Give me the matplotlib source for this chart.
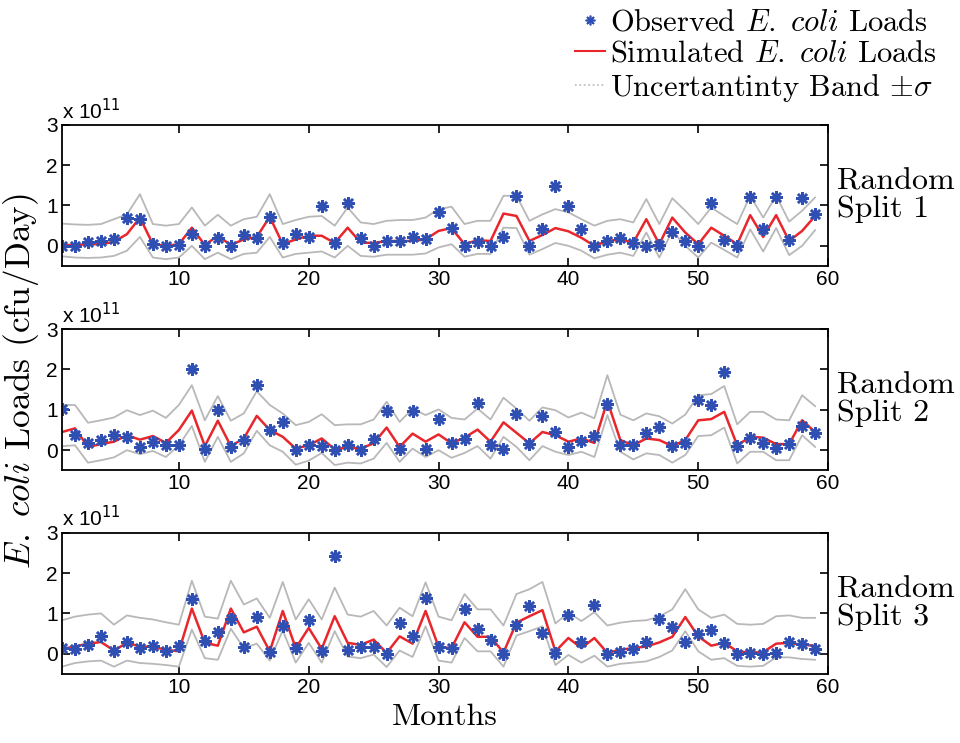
import numpy as np
import matplotlib
matplotlib.use('Agg')
import matplotlib.pyplot as plt
from matplotlib.lines import Line2D

plt.rcParams['mathtext.fontset'] = 'cm'
plt.rcParams['axes.unicode_minus'] = False

# loads in units of 1e11 cfu/day, months 1..59
months = np.arange(1, 60)

obs_1 = [0.0, 0.0, 0.1, 0.12, 0.16, 0.7, 0.66, 0.04, 0.0, 0.02,
         0.3, 0.0, 0.19, 0.0, 0.27, 0.2, 0.72, 0.06, 0.29, 0.23,
         0.99, 0.07, 1.05, 0.2, 0.0, 0.12, 0.12, 0.22, 0.16, 0.85,
         0.44, 0.0, 0.1, 0.0, 0.22, 1.24, 0.0, 0.41, 1.49, 0.98,
         0.41, 0.0, 0.12, 0.19, 0.07, 0.0, 0.01, 0.35, 0.12, 0.0,
         1.05, 0.14, 0.0, 1.22, 0.41, 1.2, 0.14, 1.18, 0.79]
sim_1 = [0.02, 0.02, 0.04, 0.04, 0.1, 0.29, 0.7, 0.04, 0.0, 0.04,
         0.45, 0.02, 0.25, 0.02, 0.16, 0.22, 0.72, 0.04, 0.16, 0.25,
         0.25, 0.07, 0.45, 0.08, 0.07, 0.12, 0.12, 0.12, 0.16, 0.37,
         0.44, 0.04, 0.14, 0.12, 0.8, 0.74, 0.12, 0.27, 0.44, 0.36,
         0.2, 0.0, 0.12, 0.16, 0.08, 0.66, 0.04, 0.7, 0.33, 0.04,
         0.45, 0.25, 0.04, 0.76, 0.22, 0.76, 0.12, 0.37, 0.74]
upper_1 = [0.55, 0.53, 0.52, 0.54, 0.66, 0.78, 1.28, 0.54, 0.5, 0.54,
           0.95, 0.5, 0.77, 0.5, 0.66, 0.72, 1.28, 0.54, 0.64, 0.72,
           0.74, 0.5, 0.95, 0.58, 0.54, 0.62, 0.64, 0.64, 0.7, 0.91,
           0.97, 0.54, 0.62, 0.62, 1.24, 1.24, 0.62, 0.78, 0.91, 0.83,
           0.66, 0.5, 0.62, 0.66, 0.58, 1.16, 0.54, 1.18, 0.87, 0.54,
           0.95, 0.74, 0.54, 1.24, 0.7, 1.24, 0.6, 0.87, 1.2]
lower_1 = [-0.26, -0.29, -0.3, -0.29, -0.25, -0.12, 0.22, -0.29, -0.33, -0.29,
           0.0, -0.33, -0.17, -0.33, -0.2, -0.17, 0.22, -0.29, -0.2, -0.17,
           -0.14, -0.29, 0.0, -0.25, -0.27, -0.22, -0.22, -0.22, -0.19, -0.04,
           0.04, -0.27, -0.2, -0.2, 0.45, 0.44, -0.22, -0.08, 0.07, 0.0,
           -0.12, -0.31, -0.22, -0.17, -0.25, 0.33, -0.29, 0.37, 0.0, -0.29,
           0.08, -0.1, -0.29, 0.41, -0.14, 0.44, -0.23, 0.0, 0.39]

obs_2 = [1.03, 0.37, 0.18, 0.25, 0.37, 0.33, 0.08, 0.2, 0.14, 0.13,
         2.0, 0.04, 0.99, 0.08, 0.26, 1.61, 0.51, 0.7, 0.0, 0.14,
         0.1, 0.0, 0.12, 0.0, 0.27, 0.98, 0.02, 0.98, 0.02, 0.77,
         0.18, 0.27, 1.16, 0.12, 0.02, 0.89, 0.15, 0.84, 0.45, 0.07,
         0.23, 0.35, 1.14, 0.12, 0.12, 0.43, 0.58, 0.11, 0.18, 1.24,
         1.13, 1.94, 0.1, 0.29, 0.17, 0.06, 0.15, 0.6, 0.43]
sim_2 = [0.45, 0.54, 0.08, 0.15, 0.21, 0.37, 0.26, 0.35, 0.18, 0.5,
         0.98, 0.1, 0.73, 0.1, 0.29, 0.85, 0.5, 0.33, 0.04, 0.12,
         0.29, 0.02, 0.07, 0.04, 0.17, 0.56, 0.08, 0.41, 0.21, 0.39,
         0.17, 0.31, 0.51, 0.21, 0.69, 0.43, 0.17, 0.45, 0.37, 0.21,
         0.29, 0.18, 1.22, 0.25, 0.12, 0.29, 0.25, 0.1, 0.25, 0.74,
         0.77, 0.95, 0.12, 0.33, 0.31, 0.15, 0.15, 0.74, 0.45]
upper_2 = [1.12, 1.12, 0.68, 0.74, 0.81, 0.99, 0.87, 0.98, 0.8, 1.12,
           1.61, 0.74, 1.34, 0.73, 0.91, 1.46, 1.12, 0.91, 0.62, 0.7,
           0.89, 0.62, 0.64, 0.64, 0.76, 1.2, 0.7, 1.03, 0.87, 1.01,
           0.8, 0.76, 1.03, 0.76, 1.3, 1.03, 0.73, 1.06, 0.99, 0.81,
           0.93, 0.79, 1.86, 0.88, 0.74, 0.91, 0.84, 0.66, 0.88, 1.36,
           1.39, 1.59, 0.64, 0.95, 0.95, 0.76, 0.74, 1.36, 1.09]
lower_2 = [0.1, 0.12, -0.31, -0.25, -0.18, 0.0, -0.1, -0.02, -0.17, 0.12,
           0.6, -0.29, 0.33, -0.29, -0.08, 0.48, 0.12, -0.04, -0.36, -0.26,
           -0.07, -0.37, -0.31, -0.33, -0.21, 0.18, -0.29, 0.04, -0.17, 0.0,
           -0.19, -0.07, 0.1, -0.21, 0.33, 0.08, -0.25, 0.1, -0.04, -0.12,
           -0.04, -0.17, 0.87, -0.04, -0.23, -0.08, -0.12, -0.31, -0.12, 0.35,
           0.37, 0.56, -0.33, -0.04, -0.04, -0.25, -0.25, 0.37, 0.08]

obs_3 = [0.14, 0.12, 0.22, 0.43, 0.06, 0.28, 0.14, 0.18, 0.08, 0.2,
         1.35, 0.31, 0.53, 0.85, 0.16, 0.92, 0.04, 0.68, 0.13, 0.83,
         0.06, 2.43, 0.1, 0.17, 0.17, 0.0, 0.77, 0.43, 1.38, 0.17,
         0.14, 1.12, 0.62, 0.35, 0.0, 0.72, 1.18, 0.52, 0.03, 0.95,
         0.28, 1.22, 0.0, 0.05, 0.12, 0.28, 0.87, 0.66, 0.28, 0.49,
         0.6, 0.27, 0.0, 0.02, 0.0, 0.02, 0.28, 0.25, 0.12]
sim_3 = [0.12, 0.18, 0.25, 0.29, 0.08, 0.27, 0.18, 0.17, 0.1, 0.06,
         1.12, 0.27, 0.2, 1.12, 0.53, 0.67, 0.06, 1.06, 0.14, 0.64,
         0.12, 0.93, 0.27, 0.22, 0.35, 0.02, 0.43, 0.25, 1.06, 0.17,
         0.14, 0.78, 0.42, 0.42, 0.03, 0.77, 0.93, 1.08, 0.06, 0.39,
         0.14, 0.39, 0.02, 0.1, 0.14, 0.18, 0.28, 0.42, 0.91, 0.43,
         0.2, 0.27, 0.06, 0.03, 0.04, 0.25, 0.27, 0.22, 0.2]
upper_3 = [0.83, 0.92, 0.97, 1.0, 0.72, 0.95, 0.89, 0.85, 0.78, 0.72,
           1.81, 0.92, 0.87, 1.81, 1.22, 1.37, 0.89, 1.78, 0.85, 1.35,
           0.85, 1.64, 0.97, 0.92, 1.06, 0.7, 1.14, 0.93, 1.77, 0.92,
           0.83, 1.48, 1.1, 1.1, 0.7, 1.48, 1.6, 1.78, 0.75, 1.02,
           0.81, 1.03, 0.7, 0.77, 0.81, 0.83, 0.92, 1.1, 1.6, 1.1,
           0.89, 0.97, 0.74, 0.72, 0.74, 0.93, 0.95, 0.89, 0.89]
lower_3 = [-0.32, -0.23, -0.19, -0.17, -0.32, -0.17, -0.23, -0.25, -0.28, -0.32,
           0.6, -0.11, -0.15, 0.62, 0.14, 0.25, -0.17, 0.58, -0.22, 0.27,
           -0.22, 0.56, -0.07, -0.11, -0.02, -0.33, 0.08, -0.08, 0.68, -0.17,
           -0.22, 0.39, 0.06, 0.06, -0.32, 0.45, 0.56, 0.68, -0.28, -0.03,
           -0.22, -0.05, -0.32, -0.25, -0.22, -0.19, -0.08, 0.08, 0.56, 0.06,
           -0.15, -0.11, -0.3, -0.32, -0.3, -0.09, -0.09, -0.13, -0.15]

panels = [
    ('Random\nSplit 1', obs_1, sim_1, upper_1, lower_1),
    ('Random\nSplit 2', obs_2, sim_2, upper_2, lower_2),
    ('Random\nSplit 3', obs_3, sim_3, upper_3, lower_3),
]

star_color = '#2f4fb3'
sim_color = '#e8262b'
band_color = '#b8b8b8'
serif = 'cmr10'
tick_font = 'Liberation Sans'

fig = plt.figure(figsize=(9.6, 7.43), dpi=100)
ax_bottoms = [0.642, 0.367, 0.093]
ax_left, ax_width, ax_height = 0.0646, 0.798, 0.19

for (name, obs, sim, upper, lower), bottom in zip(panels, ax_bottoms):
    ax = fig.add_axes([ax_left, bottom, ax_width, ax_height])
    ax.plot(months, upper, color=band_color, lw=1.3)
    ax.plot(months, lower, color=band_color, lw=1.3)
    ax.plot(months, sim, color=sim_color, lw=1.8)
    ax.plot(months, obs, linestyle='none', marker=(8, 2, 0), ms=9, mew=1.8,
            color=star_color)
    ax.set_xlim(1, 60)
    ax.set_ylim(-0.5, 3)
    ax.set_xticks([10, 20, 30, 40, 50, 60])
    ax.set_yticks([0, 1, 2, 3])
    ax.tick_params(direction='in', top=True, right=True, length=6, width=1.2,
                   labelsize=15, pad=3)
    for lab in ax.get_xticklabels() + ax.get_yticklabels():
        lab.set_fontfamily(tick_font)
    for sp in ax.spines.values():
        sp.set_linewidth(1.3)
    ax.text(0.0, 1.015, r'x 10$^{11}$', transform=ax.transAxes, ha='left',
            va='bottom', fontsize=15, family=tick_font,
            math_fontfamily='dejavusans')
    ax.text(1.012, 0.5, name, transform=ax.transAxes, ha='left', va='center',
            fontsize=23, family=serif, linespacing=1.0)
    if bottom == ax_bottoms[-1]:
        ax.set_xlabel('Months', fontsize=23, family=serif, labelpad=5)

fig.text(0.022, 0.487, r'$E.\ coli$ Loads (cfu/Day)', rotation=90,
         ha='center', va='center', fontsize=25.5, family=serif)

handles = [
    Line2D([], [], linestyle='none', marker=(8, 2, 0), ms=7, mew=1.2,
           color=star_color),
    Line2D([], [], color=sim_color, lw=1.5),
    Line2D([], [], color=band_color, lw=1.2, linestyle=':'),
]
labels = [r'Observed $E.\ coli$ Loads', r'Simulated $E.\ coli$ Loads',
          r'Uncertantinty Band $\pm\sigma$']
fig.legend(handles, labels, loc='upper right', bbox_to_anchor=(0.995, 1.012),
           frameon=False, prop={'family': serif, 'size': 22},
           handlelength=1.0, handletextpad=0.15, labelspacing=0.12,
           borderaxespad=0.2)

fig.savefig('out.png', dpi=100)
